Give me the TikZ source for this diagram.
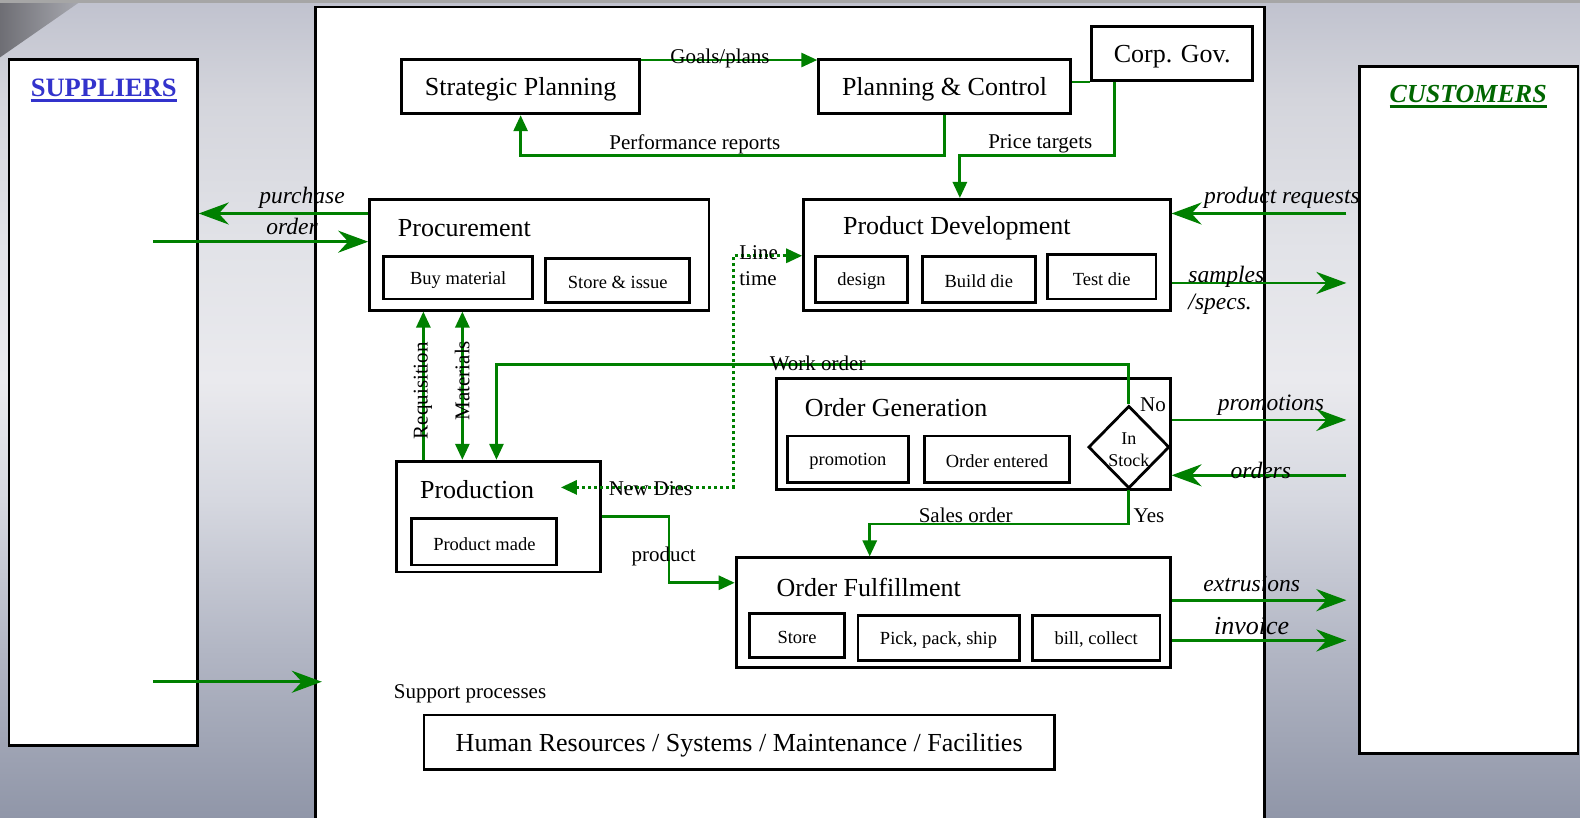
\documentclass[tikz,border=0pt]{standalone}
\usepackage{fontspec}
\setmainfont{Liberation Serif}
\usetikzlibrary{arrows.meta,shapes.geometric,fit,calc}
\definecolor{gr}{RGB}{0,128,0}
\definecolor{supblue}{RGB}{51,51,204}
\definecolor{custgreen}{RGB}{0,102,0}
\definecolor{cA}{RGB}{192,194,206}
\definecolor{cB}{RGB}{212,213,220}
\definecolor{cC}{RGB}{226,227,232}
\definecolor{cD}{RGB}{234,234,238}
\definecolor{cE}{RGB}{214,216,224}
\definecolor{cF}{RGB}{178,182,196}
\definecolor{cG}{RGB}{144,150,168}
\definecolor{swA}{RGB}{110,110,116}
\definecolor{swB}{RGB}{170,171,178}
\pgfdeclareverticalshading{bgsh}{100bp}{color(0bp)=(cG); color(25bp)=(cG); color(35.27bp)=(cF); color(44.44bp)=(cE); color(51.77bp)=(cD); color(59.72bp)=(cC); color(68.89bp)=(cB); color(75bp)=(cA); color(100bp)=(cA)}
\begin{document}
\begin{tikzpicture}[x=1.007pt,y=-1.007pt,
  box/.style={draw=black, line width=2.8pt, fill=white, inner sep=0pt},
  txt/.style={inner sep=0pt, yshift=-3pt, font=\fontsize{26}{30}\selectfont},
  sub/.style={inner sep=0pt, yshift=-2pt, font=\fontsize{18.5}{22}\selectfont},
  ttl/.style={inner sep=0pt, anchor=west, yshift=-1.5pt, font=\fontsize{26}{30}\selectfont},
  lbl/.style={inner sep=0pt, font=\fontsize{21}{24}\selectfont},
  ilbl/.style={inner sep=0pt, font=\fontsize{23.5}{27}\selectfont\itshape},
  g/.style={draw=gr, line width=2.8pt},
  gt/.style={g, -{Triangle[length=16pt,width=14pt]}},
  gx/.style={g, -{Stealth[length=30pt,width=22pt,inset=10pt]}},
  gdot/.style={g, line width=3pt, dash pattern=on 3pt off 3pt, {Triangle[length=16pt,width=14pt]}-{Triangle[length=16pt,width=14pt]}}
]
\useasboundingbox (0,0) rectangle (1569,812.3);
\clip (0,0) rectangle (1569,812.3);
% background
\shade[shading=bgsh] (0,0) rectangle (1569,812.3);
\shade[left color=swA, right color=swB] (0,0) -- (82,0) -- (0,57) -- cycle;
\fill[gray!70] (0,0) rectangle (1569,2.5);

% side boxes and central panel
\node[box, fit={(9,59)(196,740)}] (sup) {};
\node[box, fit={(1350,66)(1567,748)}] (cus) {};
\node[box, fit={(313,7)(1256,840)}] (panel) {};

\node[inner sep=0pt, font=\fontsize{26.5}{30}\selectfont\bfseries, text=supblue] (st) at (103,87) {SUPPLIERS};
\draw[supblue, line width=2.5pt] ([yshift=-4pt]st.south west) -- ([yshift=-4pt]st.south east);
\node[inner sep=0pt, font=\fontsize{26}{30}\selectfont\bfseries\itshape, text=custgreen] (ct) at (1458,93) {CUSTOMERS};
\draw[custgreen, line width=2.5pt] ([yshift=-4pt]ct.south west) -- ([yshift=-4pt]ct.south east);

% top boxes
\node[box, fit={(399,59)(635,113)}, label={[txt]center:Strategic Planning}] (sp) {};
\node[box, fit={(813,59)(1063,113)}, label={[txt]center:Planning \& Control}] (pc) {};
\node[box, fit={(1084,26)(1244,80)}, label={[txt]center:Corp. Gov.}] (cg) {};

% procurement
\node[box, fit={(367,198)(704,308)}] (proc) {};
\node[ttl] at (395,225) {Procurement};
\node[box, fit={(381,255)(529,297)}, label={[sub]center:Buy material}] (buy) {};
\node[box, fit={(542,257)(685,300)}, label={[sub]center:Store \& issue}] (sti) {};

% product development
\node[box, fit={(798,198)(1162,308)}] (pd) {};
\node[ttl] at (837,225) {Product Development};
\node[box, fit={(810,255)(901,300)}, label={[sub]center:design}] (des) {};
\node[box, fit={(916,255)(1028,300)}, label={[sub]center:Build die}] (bd) {};
\node[box, fit={(1040,253)(1148,297)}, label={[sub]center:Test die}] (td) {};

% order generation
\node[box, fit={(771,376)(1162,486)}] (og) {};
\node[ttl] at (799,403) {Order Generation};
\node[box, fit={(782,433)(902,479)}, label={[sub]center:promotion}] (prm) {};
\node[box, fit={(918,433)(1062,479)}, label={[sub]center:Order entered}] (oe) {};
\node[draw=black, line width=2.8pt, fill=white, diamond, inner sep=0pt, minimum width=81pt, minimum height=82.5pt] (stock) at (1121,444) {};
\node[inner sep=0pt, align=center, yshift=-3pt, font=\fontsize{18}{22}\selectfont] at (stock.center) {In\\Stock};

% production
\node[box, fit={(394,458)(596,568)}] (prod) {};
\node[ttl] at (417,485) {Production};
\node[box, fit={(409,515)(553,561)}, label={[sub]center:Product made}] (pm) {};

% order fulfillment
\node[box, fit={(731,554)(1162,663)}] (of) {};
\node[ttl] at (771,582) {Order Fulfillment};
\node[box, fit={(744,609)(839,653)}, label={[sub]center:Store}] (sto) {};
\node[box, fit={(852,611)(1012,656)}, label={[sub]center:{Pick, pack, ship}}] (pps) {};
\node[box, fit={(1025,611)(1152,656)}, label={[sub]center:{bill, collect}}] (bc) {};

% support
\node[lbl, anchor=west] at (391,689) {Support processes};
\node[box, fit={(421,710)(1047,764)}, label={[txt]center:Human Resources / Systems / Maintenance / Facilities}] (hr) {};

% free ends
\coordinate (po) at (0,212);
\coordinate (s1) at (152,240);
\coordinate (s2) at (152,677);
\coordinate (prq) at (1337,212);
\coordinate (smp) at (1337,281);
\coordinate (pmo) at (1337,417);
\coordinate (ord) at (1337,472);
\coordinate (ext) at (1337,596);
\coordinate (inv) at (1337,636);
\coordinate (nd) at (557,484);
\coordinate (ltc) at (728,254);

% internal connectors
\draw[gt] ([yshift=-2pt]sp.north east) -- ([yshift=-2pt]pc.north west);
\draw[gt] (pc.south) -- ++(0,40) -| (sp.south);
\draw[g] (pc.east |- cg.south) -- (cg.south west);
\draw[gt] ([xshift=24pt]cg.south west) -- ++(0,73) -| ([xshift=-27pt]pd.north);
\draw[gt] ([xshift=28pt]prod.north west) -- ([xshift=28pt]prod.north west |- proc.south);
\draw[g, {Triangle[length=16pt,width=14pt]}-{Triangle[length=16pt,width=14pt]}] ([xshift=67pt]prod.north west |- proc.south) -- ([xshift=67pt]prod.north west);
\draw[gt] (stock.north) -- ++(0,-40) -| ([xshift=-2pt]prod.north);
\draw[gdot] (nd) -| (ltc) -- (pd.west |- ltc);
\draw[gt] (stock.south) -- ++(0,34) -| ([xshift=135pt]of.north west);
\draw[gt] (prod.east) -- ++(67,0) |- ([yshift=30pt]of.west);

% external connectors
\draw[gx] (proc.west |- po) -- (sup.east |- po);
\draw[gx] (s1) -- (proc.west |- s1);
\draw[gx, shorten >=-8pt] (s2) -- (panel.west |- s2);
\draw[gx] (prq) -- (pd.east |- prq);
\draw[gx] (pd.east |- smp) -- (smp);
\draw[gx] (og.east |- pmo) -- (pmo);
\draw[gx] (ord) -- (og.east |- ord);
\draw[gx] (of.east |- ext) -- (ext);
\draw[gx] (of.east |- inv) -- (inv);

% labels
\node[lbl] at (715,58) {Goals/plans};
\node[lbl] at (690,143) {Performance reports};
\node[lbl] at (1033,143) {Price targets};
\node[ilbl] at (300,196) {purchase};
\node[ilbl] at (290,225) {order};
\node[ilbl] at (1273,196) {product requests};
\node[ilbl, anchor=west] at (1180,275) {samples};
\node[ilbl, anchor=west] at (1180,302) {/specs.};
\node[ilbl] at (1262,402) {promotions};
\node[ilbl] at (1252,467) {orders};
\node[ilbl] at (1243,580) {extrusions};
\node[inner sep=0pt, font=\fontsize{26}{30}\selectfont\itshape] at (1243,622) {invoice};
\node[lbl, rotate=90] at (420,388) {Requisition};
\node[lbl, rotate=90] at (459,378) {Materials};
\node[lbl] at (812,361) {Work order};
\node[lbl, anchor=west] at (734,251) {Line};
\node[lbl, anchor=west] at (734,277) {time};
\node[lbl] at (646,485) {New Dies};
\node[lbl] at (959,512) {Sales order};
\node[lbl] at (1141,512) {Yes};
\node[lbl] at (1145,402) {No};
\node[lbl] at (659,553) {product};
\end{tikzpicture}
\end{document}
